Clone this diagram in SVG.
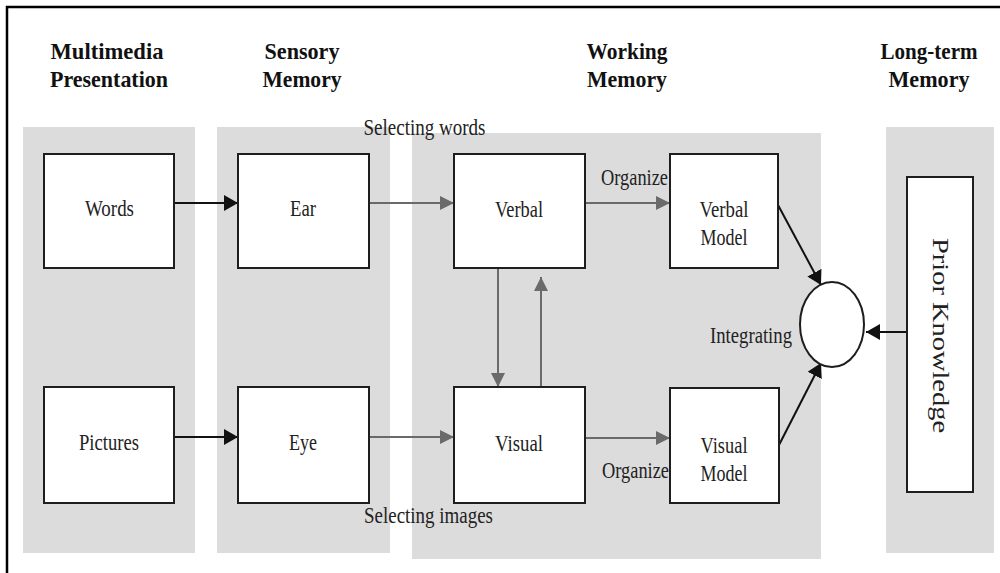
<svg xmlns="http://www.w3.org/2000/svg" width="1000" height="573" viewBox="0 0 1000 573">
<style>
.panel{fill:#dcdcdc}
.box{fill:#fff;stroke:#1e1e1e;stroke-width:2}
.t{font-family:"Liberation Serif","Times New Roman",serif;font-size:23px;fill:#222;text-anchor:middle}
.h{font-family:"Liberation Serif","Times New Roman",serif;font-size:24px;font-weight:bold;fill:#111;text-anchor:middle}
.k{stroke:#111;stroke-width:2;fill:none}
.g{stroke:#6a6a6a;stroke-width:2;fill:none}
</style>
<defs>
<marker id="ak" markerWidth="14" markerHeight="16" refX="14" refY="8" orient="auto" markerUnits="userSpaceOnUse"><path d="M0,0 L14,8 L0,16 Z" fill="#111"/></marker>
<marker id="ag" markerWidth="14" markerHeight="14" refX="14" refY="7" orient="auto" markerUnits="userSpaceOnUse"><path d="M0,0 L14,7 L0,14 Z" fill="#6a6a6a"/></marker>
</defs>
<rect width="1000" height="573" fill="#fff"/>
<path d="M7,573 V7 H1000" fill="none" stroke="#000" stroke-width="2.5"/>
<g id="panels">
<rect class="panel" x="23" y="127" width="172" height="426"/>
<rect class="panel" x="217" y="127" width="173" height="426"/>
<rect class="panel" x="412" y="133" width="409" height="426"/>
<rect class="panel" x="886" y="127" width="108" height="426"/>
</g>
<g id="headers">
<text class="h" x="107" y="59" textLength="113" lengthAdjust="spacingAndGlyphs">Multimedia</text>
<text class="h" x="109" y="87" textLength="118" lengthAdjust="spacingAndGlyphs">Presentation</text>
<text class="h" x="302" y="59" textLength="75" lengthAdjust="spacingAndGlyphs">Sensory</text>
<text class="h" x="302" y="87" textLength="79" lengthAdjust="spacingAndGlyphs">Memory</text>
<text class="h" x="627" y="59" textLength="81" lengthAdjust="spacingAndGlyphs">Working</text>
<text class="h" x="627" y="87" textLength="80" lengthAdjust="spacingAndGlyphs">Memory</text>
<text class="h" x="929" y="59" textLength="97" lengthAdjust="spacingAndGlyphs">Long-term</text>
<text class="h" x="929" y="87" textLength="81" lengthAdjust="spacingAndGlyphs">Memory</text>
</g>
<g id="connectors">
<line class="k" x1="174" y1="203" x2="238" y2="203" marker-end="url(#ak)"/>
<line class="k" x1="174" y1="437" x2="238" y2="437" marker-end="url(#ak)"/>
<line class="g" x1="369" y1="203" x2="454" y2="203" marker-end="url(#ag)"/>
<line class="g" x1="369" y1="437" x2="454" y2="437" marker-end="url(#ag)"/>
<line class="g" x1="585" y1="203" x2="670" y2="203" marker-end="url(#ag)"/>
<line class="g" x1="585" y1="438" x2="670" y2="438" marker-end="url(#ag)"/>
<line class="g" x1="498" y1="268" x2="498" y2="387" marker-end="url(#ag)"/>
<line class="g" x1="541" y1="387" x2="541" y2="277" marker-end="url(#ag)"/>
<line class="k" x1="778" y1="205" x2="821" y2="285" marker-end="url(#ak)"/>
<line class="k" x1="779" y1="445" x2="821" y2="363" marker-end="url(#ak)"/>
<line class="k" x1="907" y1="332" x2="866" y2="332" marker-end="url(#ak)"/>
</g>
<g id="labels">
<text class="t" x="424.5" y="135" textLength="122" lengthAdjust="spacingAndGlyphs">Selecting words</text>
<text class="t" x="428.5" y="523" textLength="129" lengthAdjust="spacingAndGlyphs">Selecting images</text>
<text class="t" x="634.5" y="185" textLength="67" lengthAdjust="spacingAndGlyphs">Organize</text>
<text class="t" x="635.5" y="478" textLength="67" lengthAdjust="spacingAndGlyphs">Organize</text>
<text class="t" x="751" y="343" textLength="82" lengthAdjust="spacingAndGlyphs">Integrating</text>
</g>
<g id="words"><rect class="box" x="44" y="154" width="130" height="114"/><text class="t" x="109.5" y="216" textLength="49" lengthAdjust="spacingAndGlyphs">Words</text></g>
<g id="pictures"><rect class="box" x="44" y="387" width="130" height="116"/><text class="t" x="109" y="450" textLength="60" lengthAdjust="spacingAndGlyphs">Pictures</text></g>
<g id="ear"><rect class="box" x="238" y="154" width="131" height="114"/><text class="t" x="303" y="216" textLength="26" lengthAdjust="spacingAndGlyphs">Ear</text></g>
<g id="eye"><rect class="box" x="238" y="387" width="131" height="116"/><text class="t" x="303" y="450" textLength="28" lengthAdjust="spacingAndGlyphs">Eye</text></g>
<g id="verbal"><rect class="box" x="454" y="154" width="131" height="114"/><text class="t" x="519" y="217" textLength="48" lengthAdjust="spacingAndGlyphs">Verbal</text></g>
<g id="visual"><rect class="box" x="454" y="387" width="131" height="116"/><text class="t" x="519" y="451" textLength="48" lengthAdjust="spacingAndGlyphs">Visual</text></g>
<g id="verbal-model"><rect class="box" x="670" y="154" width="108" height="114"/><text class="t" x="724" y="217" textLength="49" lengthAdjust="spacingAndGlyphs">Verbal</text><text class="t" x="724" y="245" textLength="47" lengthAdjust="spacingAndGlyphs">Model</text></g>
<g id="visual-model"><rect class="box" x="670" y="388" width="109" height="115"/><text class="t" x="724" y="453" textLength="47" lengthAdjust="spacingAndGlyphs">Visual</text><text class="t" x="724" y="481" textLength="47" lengthAdjust="spacingAndGlyphs">Model</text></g>
<g id="integrating"><ellipse cx="832" cy="324.5" rx="32" ry="42.5" fill="#fff" stroke="#1e1e1e" stroke-width="2"/></g>
<g id="prior-knowledge"><rect class="box" x="907" y="177" width="66" height="315"/><text class="t" transform="translate(933,335.5) rotate(90)" x="0" y="0" textLength="195" lengthAdjust="spacingAndGlyphs" style="font-size:23px">Prior Knowledge</text></g>
</svg>
